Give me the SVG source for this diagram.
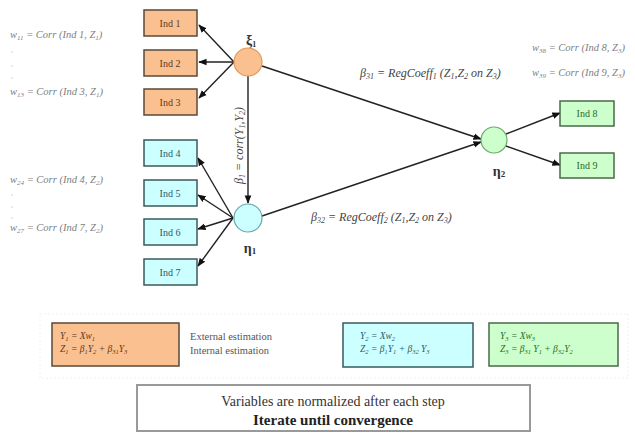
<svg xmlns="http://www.w3.org/2000/svg" width="635" height="434" viewBox="0 0 635 434" font-family="'Liberation Serif', 'DejaVu Serif', serif">
<style>
text{font-family:'Liberation Serif','DejaVu Serif',serif;}
.ind{font-size:10px;text-anchor:middle;}
.or rect{fill:#fac090;stroke:#5a4a3a;stroke-width:1.5;}
.bl rect{fill:#ccffff;stroke:#3a5a5a;stroke-width:1.5;}
.gr rect{fill:#ccffcc;stroke:#4a6a4a;stroke-width:1.5;}
.or text{fill:#5a3a20;}
.bl text{fill:#2a5a6a;}
.gr text{fill:#2a6a2a;}
.w{font-size:10.5px;font-style:italic;fill:#808080;}
.beta{font-size:12px;font-style:italic;fill:#444;}
.lat{font-size:14px;font-weight:bold;fill:#333;text-anchor:middle;}
.leg{font-size:9.5px;font-style:italic;}
.est{font-size:10.5px;fill:#555;}
.conn line{stroke:#222;stroke-width:1.4;marker-end:url(#ah);}
</style>
<defs>
<marker id="ah" viewBox="0 0 10 10" refX="9" refY="5" markerWidth="6" markerHeight="6" orient="auto">
<path d="M0,1 L10,5 L0,9 z" fill="#111"/>
</marker>
</defs>
<rect width="635" height="434" fill="#fff"/>

<!-- side labels -->
<text class="w" x="10" y="38">w<tspan font-size="7" dy="2">11</tspan><tspan dy="-2"> = Corr (Ind 1, Z</tspan><tspan font-size="7" dy="2">1</tspan><tspan dy="-2">)</tspan></text>
<text class="w" x="10" y="95">w<tspan font-size="7" dy="2">13</tspan><tspan dy="-2"> = Corr (Ind 3, Z</tspan><tspan font-size="7" dy="2">1</tspan><tspan dy="-2">)</tspan></text>
<g fill="#ccc"><circle cx="12" cy="52" r="0.8"/><circle cx="12" cy="66" r="0.8"/><circle cx="12" cy="78" r="0.8"/>
<circle cx="12" cy="195" r="0.8"/><circle cx="12" cy="207" r="0.8"/><circle cx="12" cy="218" r="0.8"/></g>
<text class="w" x="10" y="183">w<tspan font-size="7" dy="2">24</tspan><tspan dy="-2"> = Corr (Ind 4, Z</tspan><tspan font-size="7" dy="2">2</tspan><tspan dy="-2">)</tspan></text>
<text class="w" x="10" y="231">w<tspan font-size="7" dy="2">27</tspan><tspan dy="-2"> = Corr (Ind 7, Z</tspan><tspan font-size="7" dy="2">2</tspan><tspan dy="-2">)</tspan></text>
<text class="w" x="532" y="51">w<tspan font-size="7" dy="2">38</tspan><tspan dy="-2"> = Corr (Ind 8, Z</tspan><tspan font-size="7" dy="2">3</tspan><tspan dy="-2">)</tspan></text>
<text class="w" x="532" y="76">w<tspan font-size="7" dy="2">39</tspan><tspan dy="-2"> = Corr (Ind 9, Z</tspan><tspan font-size="7" dy="2">3</tspan><tspan dy="-2">)</tspan></text>

<!-- connectors -->
<g id="connectors" class="conn">
<line x1="234" y1="62" x2="199" y2="25"/>
<line x1="234" y1="62" x2="199" y2="62"/>
<line x1="234" y1="62" x2="199" y2="98"/>
<line x1="233" y1="218" x2="198" y2="158"/>
<line x1="233" y1="218" x2="198" y2="195"/>
<line x1="233" y1="218" x2="198" y2="229"/>
<line x1="233" y1="218" x2="198" y2="266"/>
<line x1="248" y1="76" x2="248" y2="203"/>
<line x1="262" y1="66" x2="481" y2="139"/>
<line x1="262" y1="216" x2="481" y2="142"/>
<line x1="506" y1="134" x2="560" y2="113"/>
<line x1="506" y1="146" x2="560" y2="165"/>
</g>

<!-- beta labels -->
<text class="beta" x="360" y="77">β<tspan font-size="8" dy="2">31</tspan><tspan dy="-2"> = RegCoeff</tspan><tspan font-size="8" dy="2">1</tspan><tspan dy="-2"> (Z</tspan><tspan font-size="8" dy="2">1</tspan><tspan dy="-2">,Z</tspan><tspan font-size="8" dy="2">2</tspan><tspan dy="-2"> on Z</tspan><tspan font-size="8" dy="2">3</tspan><tspan dy="-2">)</tspan></text>
<text class="beta" x="311" y="221">β<tspan font-size="8" dy="2">32</tspan><tspan dy="-2"> = RegCoeff</tspan><tspan font-size="8" dy="2">2</tspan><tspan dy="-2"> (Z</tspan><tspan font-size="8" dy="2">1</tspan><tspan dy="-2">,Z</tspan><tspan font-size="8" dy="2">2</tspan><tspan dy="-2"> on Z</tspan><tspan font-size="8" dy="2">3</tspan><tspan dy="-2">)</tspan></text>
<text class="beta" transform="translate(243,184) rotate(-90)">β<tspan font-size="8" dy="2">1</tspan><tspan dy="-2"> = corr(Y</tspan><tspan font-size="8" dy="2">1</tspan><tspan dy="-2">,Y</tspan><tspan font-size="8" dy="2">2</tspan><tspan dy="-2">)</tspan></text>

<!-- indicator nodes -->
<g id="ind1" class="or"><rect x="144" y="10" width="53" height="26"/><text class="ind" x="170" y="27">Ind 1</text></g>
<g id="ind2" class="or"><rect x="144" y="50" width="53" height="26"/><text class="ind" x="170" y="67">Ind 2</text></g>
<g id="ind3" class="or"><rect x="144" y="89" width="53" height="26"/><text class="ind" x="170" y="106">Ind 3</text></g>
<g id="ind4" class="bl"><rect x="144" y="140" width="53" height="26"/><text class="ind" x="170" y="157">Ind 4</text></g>
<g id="ind5" class="bl"><rect x="144" y="180" width="53" height="26"/><text class="ind" x="170" y="197">Ind 5</text></g>
<g id="ind6" class="bl"><rect x="144" y="219" width="53" height="26"/><text class="ind" x="170" y="236">Ind 6</text></g>
<g id="ind7" class="bl"><rect x="144" y="259" width="53" height="26"/><text class="ind" x="170" y="276">Ind 7</text></g>
<g id="ind8" class="gr"><rect x="560" y="101" width="54" height="25"/><text class="ind" x="587" y="117">Ind 8</text></g>
<g id="ind9" class="gr"><rect x="560" y="153" width="54" height="25"/><text class="ind" x="587" y="169">Ind 9</text></g>

<!-- latent nodes -->
<g id="xi1"><circle cx="248" cy="62" r="14" fill="#fac090" stroke="#e09a5a" stroke-width="1.2"/><text class="lat" x="251" y="45" font-size="13">ξ<tspan font-size="8" dy="2">1</tspan></text></g>
<g id="eta1"><circle cx="248" cy="218" r="14" fill="#ccffff" stroke="#6aa8b0" stroke-width="1.2"/><text class="lat" x="250" y="253">η<tspan font-size="9" dy="1">1</tspan></text></g>
<g id="eta2"><circle cx="494" cy="140" r="13" fill="#ccffcc" stroke="#6aa86a" stroke-width="1.2"/><text class="lat" x="499" y="176">η<tspan font-size="9" dy="1">2</tspan></text></g>

<!-- legend -->
<rect x="40" y="314" width="588" height="64" fill="none" stroke="#e6f2f8" stroke-dasharray="2,2"/>
<g id="leg1" class="or"><rect x="52" y="323" width="127" height="43"/>
<text class="leg" x="60" y="339">Y<tspan font-size="6.5" dy="2">1</tspan><tspan dy="-2"> = Xw</tspan><tspan font-size="6.5" dy="2">1</tspan></text>
<text class="leg" x="60" y="352">Z<tspan font-size="6.5" dy="2">1</tspan><tspan dy="-2"> = β</tspan><tspan font-size="6.5" dy="2">1</tspan><tspan dy="-2">Y</tspan><tspan font-size="6.5" dy="2">2</tspan><tspan dy="-2"> + β</tspan><tspan font-size="6.5" dy="2">31</tspan><tspan dy="-2">Y</tspan><tspan font-size="6.5" dy="2">3</tspan></text></g>
<text class="est" x="190" y="340">External estimation</text>
<text class="est" x="190" y="354">Internal estimation</text>
<g id="leg2" class="bl"><rect x="343" y="323" width="130" height="44"/>
<text class="leg" x="360" y="339">Y<tspan font-size="6.5" dy="2">2</tspan><tspan dy="-2"> = Xw</tspan><tspan font-size="6.5" dy="2">2</tspan></text>
<text class="leg" x="360" y="352">Z<tspan font-size="6.5" dy="2">2</tspan><tspan dy="-2"> = β</tspan><tspan font-size="6.5" dy="2">1</tspan><tspan dy="-2">Y</tspan><tspan font-size="6.5" dy="2">1</tspan><tspan dy="-2"> + β</tspan><tspan font-size="6.5" dy="2">32</tspan><tspan dy="-2"> Y</tspan><tspan font-size="6.5" dy="2">3</tspan></text></g>
<g id="leg3" class="gr"><rect x="489" y="323" width="129" height="43"/>
<text class="leg" x="500" y="339">Y<tspan font-size="6.5" dy="2">3</tspan><tspan dy="-2"> = Xw</tspan><tspan font-size="6.5" dy="2">3</tspan></text>
<text class="leg" x="500" y="352">Z<tspan font-size="6.5" dy="2">3</tspan><tspan dy="-2"> = β</tspan><tspan font-size="6.5" dy="2">31</tspan><tspan dy="-2"> Y</tspan><tspan font-size="6.5" dy="2">1</tspan><tspan dy="-2"> + β</tspan><tspan font-size="6.5" dy="2">32</tspan><tspan dy="-2">Y</tspan><tspan font-size="6.5" dy="2">2</tspan></text></g>

<g id="note"><rect x="137" y="385" width="393" height="46" fill="#fff" stroke="#999" stroke-width="2"/>
<text x="333" y="406" font-size="14" text-anchor="middle" fill="#333">Variables are normalized after each step</text>
<text x="333" y="425" font-size="15" font-weight="bold" text-anchor="middle" fill="#222">Iterate until convergence</text></g>
</svg>
